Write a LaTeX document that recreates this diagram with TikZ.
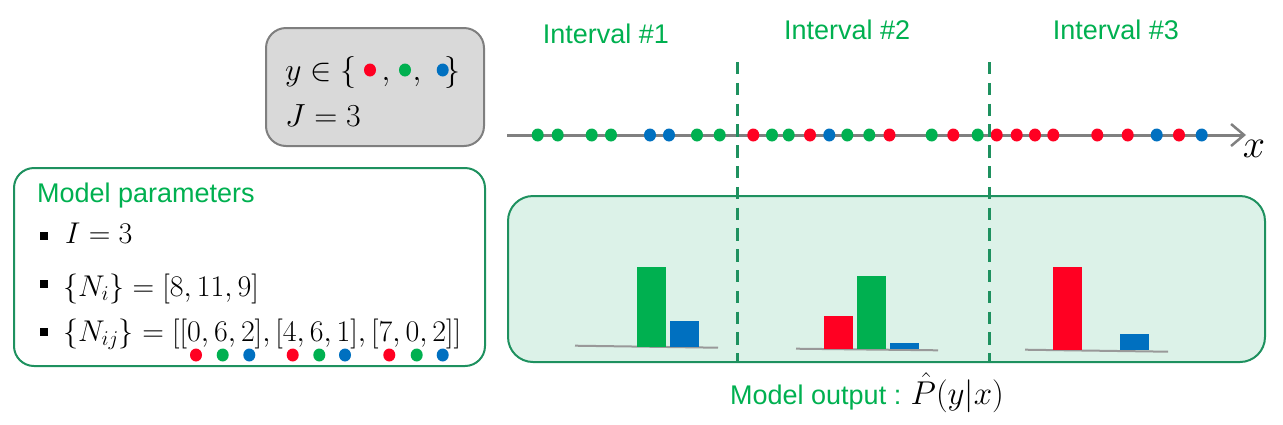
\RequirePackage{fix-cm}
\documentclass[tikz,border=0pt]{standalone}
\usepackage{fontspec}
\newfontfamily\labelfont{Liberation Sans}
\usetikzlibrary{arrows.meta,positioning}

\definecolor{cr}{RGB}{255,0,34}
\definecolor{cg}{RGB}{0,176,80}
\definecolor{cb}{RGB}{0,112,192}
\definecolor{boxgreen}{RGB}{30,145,95}
\definecolor{boxfill}{RGB}{220,242,232}
\definecolor{setfill}{RGB}{217,217,217}
\definecolor{setline}{RGB}{127,127,127}

\tikzset{
  greentext/.style={text=cg,font=\labelfont\fontsize{27}{32}\selectfont,inner sep=0pt},
  bigmath/.style={font=\fontsize{32}{38}\selectfont,inner sep=0pt},
  parmath/.style={font=\fontsize{30}{36}\selectfont,inner sep=0pt,anchor=base west},
  bulletsq/.style={fill=black,inner sep=0pt,minimum size=8pt},
  sepline/.style={boxgreen,line width=3pt,dash pattern=on 12.3pt off 8.5pt},
  axisline/.style={gray,line width=3pt,-{Straight Barb[length=13pt,width=22pt,line width=2.5pt]}},
  histbase/.style={gray!80,line width=2pt},
}

\begin{document}
\begin{tikzpicture}[x=1pt,y=-1pt]
        \useasboundingbox (0,0) rectangle (1283,424);

        % the set of classes
        \draw[setline,fill=setfill,line width=2pt,rounded corners=20pt] (266,28) rectangle (484,146);
        \node[bigmath,anchor=base west] (yin) at (285,80) {$y\in\{$};
        \node[bigmath,anchor=base] (comma1) at (386,80) {$,$};
        \node[bigmath,anchor=base] (comma2) at (417,80) {$,$};
        \node[bigmath,anchor=base east] (rbrace) at (461,80) {$\}$};
        \foreach \x/\c in {370/cr,405/cg,442.7/cb}
                \fill[\c] (\x,70) ellipse (6pt and 6.5pt);
        \node[bigmath,anchor=base west] (jnum) at (285,126) {$J=3$};

        % model parameters
        \draw[boxgreen,line width=2pt,rounded corners=20pt] (14,168) rectangle (485,366);
        \node[greentext,anchor=base west] (partitle) at (37,202) {Model parameters};
        \node[bulletsq] (b1) at (44,236) {};
        \node[parmath] (inum) at (65,243) {$I=3$};
        \node[bulletsq] (b2) at (44,284) {};
        \node[parmath] (ni) at (63,296) {$\{N_i\}=[8,11,9]$};
        \node[bulletsq] (b3) at (44,332) {};
        \node[parmath] (nij) at (63,341) {$\{N_{ij}\}=[[0,6,2],[4,6,1],[7,0,2]]$};
        \foreach \x/\c in {196/cr,222.7/cg,249.3/cb,292.7/cr,319.3/cg,345/cb,389.3/cr,416.7/cg,442.7/cb}
                \fill[\c] (\x,355) ellipse (6pt and 6.5pt);

        % model output box
        \draw[boxgreen,fill=boxfill,line width=2pt,rounded corners=25pt] (508,196) rectangle (1265,362);

        % interval labels
        \node[greentext,anchor=base west] (int1) at (542.7,43.3) {Interval \#1};
        \node[greentext,anchor=base west] (int2) at (784,39.3) {Interval \#2};
        \node[greentext,anchor=base west] (int3) at (1052.7,39.3) {Interval \#3};

        % the x axis with the data
        \draw[axisline] (507,135) -- (1246,135);
        \node[font=\fontsize{40}{48}\selectfont,inner sep=0pt] (xlabel) at (1254,149) {$x$};
        \foreach \x/\c in {
            537.7/cg,557.7/cg,591.7/cg,611/cg,650/cb,669/cb,697/cg,719.7/cg,
            753.3/cr,772/cg,788.7/cg,810/cr,829.3/cb,847.3/cg,869.3/cg,889.5/cr,931.7/cg,953.3/cr,977.7/cg,
            996.7/cr,1016.7/cr,1035/cr,1053.3/cr,1097.3/cr,1127.7/cr,1156.7/cb,1179/cr,1201.7/cb}
                \fill[\c] (\x,135) ellipse (6pt and 6.5pt);

        % interval borders
        \draw[sepline] (737,62) -- (737,362);
        \draw[sepline] (989,62) -- (989,362);

        % histograms
        \draw[histbase] (575,345.7) -- (718,347.7);
        \draw[histbase] (796,348.7) -- (938,350.3);
        \draw[histbase] (1025,349.7) -- (1168,351.7);
        \foreach \l/\t/\b/\c in {637/267/347/cg,670/321/347/cb,
                                 824/316/349.3/cr,857/276/349.3/cg,890/343/349.3/cb,
                                 1053/267/350/cr,1120/334/350/cb}
                \fill[\c] (\l,\t) rectangle (\l+29,\b);

        % output label
        \node[greentext,anchor=base west] (outlabel) at (730,404) {Model output :};
        \node[font=\fontsize{33}{40}\selectfont,inner sep=0pt,anchor=base west] (outmath) at ([xshift=9pt]outlabel.base east) {$\hat{P}(y|x)$};
\end{tikzpicture}
\end{document}
